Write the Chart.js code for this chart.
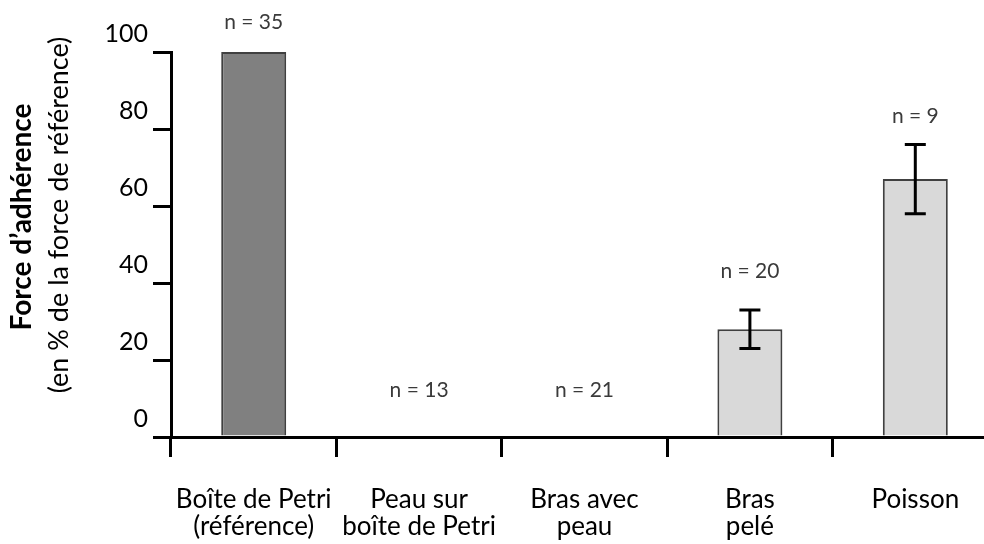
<!DOCTYPE html>
<html>
<head>
<meta charset="utf-8">
<script src="https://cdn.jsdelivr.net/npm/chart.js@4/dist/chart.umd.min.js"></script>
<style>
  html, body { margin: 0; padding: 0; background: #fff; overflow: hidden; }
  #wrap { position: absolute; left: 0; top: 0; width: 1000px; height: 544px; }
</style>
</head>
<body>
<div id="wrap"><canvas id="c" width="1000" height="544"></canvas></div>
<script>
// Adhesion force, as % of the reference (Petri dish) force
const categories = [
  ['Boîte de Petri', '(référence)'],
  ['Peau sur', 'boîte de Petri'],
  ['Bras avec', 'peau'],
  ['Bras', 'pelé'],
  ['Poisson']
];
const forceValues = [100, 0, 0, 28, 67];
const errorValues = [0, 0, 0, 5, 9];
const sampleSizes = [35, 13, 21, 20, 9];
const yTicks = [0, 20, 40, 60, 80, 100];

const FONT = 'Lato, "Open Sans", sans-serif';

// gap in px between the top of each mark (bar or whisker) and its "n = …" label
const nLabelGap = [30, 47, 47, 39, 28];

const errorBars = {
  id: 'errorBars',
  afterDatasetsDraw(chart) {
    const { ctx, scales: { x, y } } = chart;
    const meta = chart.getDatasetMeta(0);
    ctx.save();
    ctx.strokeStyle = '#000';
    ctx.lineWidth = 3;
    meta.data.forEach((bar, i) => {
      const e = errorValues[i];
      if (!e) return;
      const cx = bar.x;
      const top = y.getPixelForValue(forceValues[i] + e);
      const bot = y.getPixelForValue(forceValues[i] - e);
      ctx.beginPath();
      ctx.moveTo(cx, top); ctx.lineTo(cx, bot);
      ctx.moveTo(cx - 10.5, top); ctx.lineTo(cx + 10.5, top);
      ctx.moveTo(cx - 10.5, bot); ctx.lineTo(cx + 10.5, bot);
      ctx.stroke();
    });
    // sample size labels
    ctx.fillStyle = '#3a3a3a';
    ctx.font = '21px ' + FONT;
    ctx.textAlign = 'center';
    ctx.textBaseline = 'middle';
    meta.data.forEach((bar, i) => {
      const top = y.getPixelForValue(forceValues[i] + errorValues[i]);
      ctx.fillText('n = ' + sampleSizes[i], x.getPixelForValue(i), top - nLabelGap[i]);
    });
    ctx.restore();
  }
};

const yTitle = {
  id: 'yTitle',
  afterDraw(chart) {
    const { ctx } = chart;
    const lines = [
      { text: 'Force d\u2019adhérence', font: 'bold 28px ' + FONT, x: 22, y: 217 },
      { text: '(en % de la force de référence)', font: '27px ' + FONT, x: 59, y: 215 }
    ];
    lines.forEach(l => {
      ctx.save();
      ctx.fillStyle = '#000';
      ctx.textAlign = 'center';
      ctx.textBaseline = 'middle';
      ctx.translate(l.x, l.y);
      ctx.rotate(-Math.PI / 2);
      ctx.font = l.font;
      ctx.fillText(l.text, 0, 0);
      ctx.restore();
    });
  }
};

new Chart(document.getElementById('c'), {
  type: 'bar',
  data: {
    labels: categories,
    datasets: [{
      data: forceValues,
      backgroundColor: ['#808080', '#d9d9d9', '#d9d9d9', '#d9d9d9', '#d9d9d9'],
      borderColor: '#404040',
      borderWidth: 2,
      borderSkipped: 'bottom',
      categoryPercentage: 1,
      barPercentage: 0.393
    }]
  },
  options: {
    responsive: false,
    animation: false,
    layout: { padding: { top: 52, right: 2, left: 0, bottom: 0 } },
    plugins: { legend: { display: false }, tooltip: { enabled: false } },
    scales: {
      x: {
        grid: {
          offset: true,
          drawOnChartArea: false,
          drawTicks: true,
          tickLength: 20,
          color: '#000',
          lineWidth: 3
        },
        border: { display: true, color: '#000', width: 3 },
        ticks: {
          color: '#000',
          font: { family: FONT, size: 26, lineHeight: 1.05 },
          padding: 29,
          maxRotation: 0,
          autoSkip: false
        },
        afterFit(scale) { scale.height = 107; }
      },
      y: {
        min: 0,
        max: 100,
        afterBuildTicks(scale) { scale.ticks = yTicks.map(v => ({ value: v })); },
        grid: {
          drawOnChartArea: false,
          drawTicks: true,
          tickLength: 18,
          color: '#000',
          lineWidth: 3
        },
        border: { display: true, color: '#000', width: 3 },
        ticks: {
          color: '#000',
          font: { family: FONT, size: 25 },
          padding: 5,
          labelOffset: -18
        },
        afterFit(scale) { scale.width = 171; }
      }
    }
  },
  plugins: [errorBars, yTitle]
});
</script>
</body>
</html>
